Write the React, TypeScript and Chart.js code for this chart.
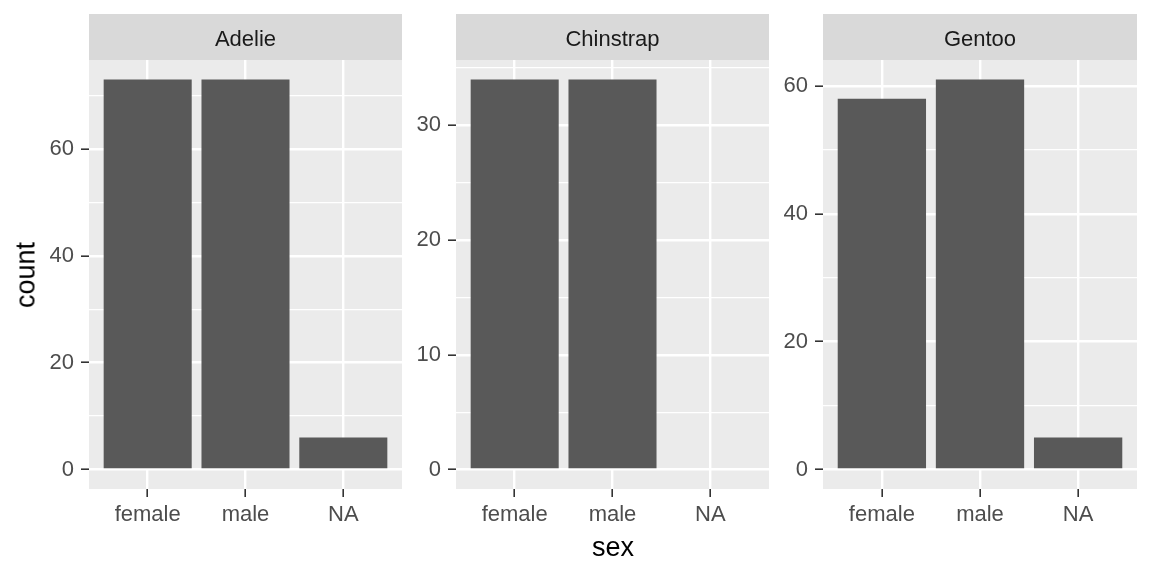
import React, { useEffect, useRef } from "react";
import { Chart, registerables } from "chart.js";

Chart.register(...registerables);

const sexes = ["female", "male", "NA"];
const species = ["Adelie", "Chinstrap", "Gentoo"];
const adelieCounts = [73, 73, 6];
const chinstrapCounts = [34, 34, 0];
const gentooCounts = [58, 61, 5];
const adelieTicks = [0, 20, 40, 60];
const chinstrapTicks = [0, 10, 20, 30];
const gentooTicks = [0, 20, 40, 60];

const FONT = "'Liberation Sans', Arial, sans-serif";
const STRIP_H = 46;
const AXIS_W = 60;
const PANEL_H = 429;
const XAXIS_H = 60;

interface PanelProps {
  title: string;
  counts: number[];
  majors: number[];
  left: number;
  width: number;
}

// background + strip, drawn before the datasets
const panelPlugin = {
  id: "panelBg",
  beforeDraw(chart: any, _args: any, opts: any) {
    const { ctx, chartArea } = chart;
    ctx.save();
    ctx.fillStyle = "#EBEBEB";
    ctx.fillRect(chartArea.left, chartArea.top, chartArea.right - chartArea.left, chartArea.bottom - chartArea.top);
    ctx.fillStyle = "#D9D9D9";
    ctx.fillRect(chartArea.left, 0, chartArea.right - chartArea.left, STRIP_H);
    ctx.fillStyle = "#1A1A1A";
    ctx.font = `22px ${FONT}`;
    ctx.textAlign = "center";
    ctx.textBaseline = "middle";
    ctx.fillText(opts.title, (chartArea.left + chartArea.right) / 2, STRIP_H / 2 + 3);
    ctx.restore();
  },
};

const Panel: React.FC<PanelProps> = ({ title, counts, majors, left, width }) => {
  const canvasRef = useRef<HTMLCanvasElement | null>(null);

  useEffect(() => {
    if (!canvasRef.current) return;
    const max = Math.max(...counts);
    const step = majors[1] - majors[0];
    const half = step / 2;
    const gridTicks: number[] = [];
    for (let v = 0; v <= max * 1.05 + 1e-9; v += half) gridTicks.push(v);
    const isMajor = (v: number) => Math.abs(v / step - Math.round(v / step)) < 1e-6;

    const chart = new Chart(canvasRef.current, {
      type: "bar",
      data: {
        datasets: [
          {
            data: counts.map((c, i) => ({ x: i + 1, y: c })),
            backgroundColor: "#595959",
            borderWidth: 0,
            barPercentage: 0.9,
            categoryPercentage: 1,
          },
        ],
      },
      options: {
        animation: false,
        responsive: false,
        maintainAspectRatio: false,
        layout: { padding: { top: STRIP_H, left: 0, right: 0, bottom: 0 } },
        plugins: {
          legend: { display: false },
          tooltip: { enabled: false },
          panelBg: { title },
        } as any,
        scales: {
          x: {
            type: "linear",
            min: 0.4,
            max: 3.6,
            offset: false,
            afterBuildTicks: (scale: any) => {
              scale.ticks = sexes.map((_, i) => ({ value: i + 1 }));
            },
            afterFit: (scale: any) => {
              scale.height = XAXIS_H;
            },
            ticks: {
              callback: (v: any) => sexes[Number(v) - 1] ?? "",
              color: "#4D4D4D",
              font: { family: FONT, size: 22 },
              padding: 5,
              maxRotation: 0,
              autoSkip: false,
            },
            grid: {
              offset: false,
              color: "#FFFFFF",
              lineWidth: 2.4,
              tickColor: "#333333",
              tickLength: 8,
              tickWidth: 1.6,
            },
            border: { display: false },
          },
          y: {
            type: "linear",
            min: -max * 0.05,
            max: max * 1.05,
            afterBuildTicks: (scale: any) => {
              scale.ticks = gridTicks.map((v) => ({ value: v }));
            },
            afterFit: (scale: any) => {
              scale.width = AXIS_W;
            },
            ticks: {
              callback: (v: any) => (isMajor(Number(v)) ? String(v) : ""),
              color: "#4D4D4D",
              font: { family: FONT, size: 22 },
              padding: 7,
              autoSkip: false,
            },
            grid: {
              color: "#FFFFFF",
              lineWidth: (c: any) => (isMajor(c.tick.value) ? 2.4 : 1.2),
              tickColor: (c: any) => (isMajor(c.tick.value) ? "#333333" : "rgba(0,0,0,0)"),
              tickLength: 8,
              tickWidth: 1.6,
            },
            border: { display: false },
          },
        },
      },
      plugins: [panelPlugin],
    });

    return () => {
      chart.destroy();
    };
  }, [title, counts, majors]);

  return (
    <canvas
      ref={canvasRef}
      width={AXIS_W + width}
      height={STRIP_H + PANEL_H + XAXIS_H}
      style={{
        position: "absolute",
        left: left - AXIS_W,
        top: 14,
        width: AXIS_W + width,
        height: STRIP_H + PANEL_H + XAXIS_H,
      }}
    />
  );
};

const App: React.FC = () => {
  return (
    <div
      style={{
        position: "absolute",
        left: 0,
        top: 0,
        width: 1152,
        height: 576,
        background: "#FFFFFF",
        fontFamily: FONT,
        overflow: "hidden",
      }}
    >
      <Panel title={species[0]} counts={adelieCounts} majors={adelieTicks} left={89} width={313} />
      <Panel title={species[1]} counts={chinstrapCounts} majors={chinstrapTicks} left={456} width={313} />
      <Panel title={species[2]} counts={gentooCounts} majors={gentooTicks} left={823} width={314} />
      <div
        style={{
          position: "absolute",
          left: 26,
          top: 275,
          transform: "translate(-50%, -50%) rotate(-90deg)",
          fontSize: 27,
          color: "#000000",
          whiteSpace: "nowrap",
        }}
      >
        count
      </div>
      <div
        style={{
          position: "absolute",
          left: 613,
          top: 547,
          transform: "translate(-50%, -50%)",
          fontSize: 27,
          color: "#000000",
          whiteSpace: "nowrap",
        }}
      >
        sex
      </div>
    </div>
  );
};

export default App;
